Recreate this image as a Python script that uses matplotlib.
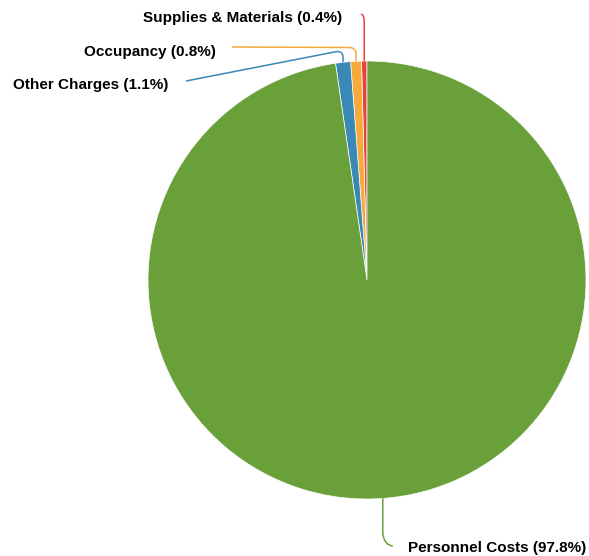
import numpy as np
import matplotlib.pyplot as plt
from matplotlib.path import Path
from matplotlib.patches import PathPatch

# Data
labels = ['Supplies & Materials', 'Occupancy', 'Other Charges', 'Personnel Costs']
shares = [0.4, 0.8, 1.1, 97.8]
colors = ['#e8433a', '#f6aa3a', '#3a88b6', '#6aa03a']

W, H = 589, 556
fig = plt.figure(figsize=(W / 100, H / 100), dpi=100)
ax = fig.add_axes([0, 0, 1, 1])

cx, cy, r = 367, H - 280, 219
wedges, _ = ax.pie(shares, colors=colors, startangle=90, counterclock=True,
                   center=(cx, cy), radius=r,
                   wedgeprops=dict(edgecolor='white', linewidth=0.5))

ax.set_xlim(0, W)
ax.set_ylim(0, H)
ax.set_aspect('equal')
ax.axis('off')


def px(x, y):
    return (x, H - y)


def leader(pts, codes, color):
    path = Path([px(*p) for p in pts], codes)
    ax.add_patch(PathPatch(path, fill=False, edgecolor=color, lw=1.1))


# anchor points on the rim from each wedge's mid angle
anchors = []
for w in wedges:
    a = np.deg2rad((w.theta1 + w.theta2) / 2)
    anchors.append((cx + r * np.cos(a), H - (cy + r * np.sin(a))))

M, L, C3 = Path.MOVETO, Path.LINETO, Path.CURVE3

x0, y0 = anchors[0]
leader([(x0, y0), (x0, 22), (x0, 15), (x0 - 3, 14)], [M, L, C3, C3], colors[0])
x1, y1 = anchors[1]
leader([(x1, y1), (x1, 54), (x1, 47.5), (x1 - 7, 47.5), (232, 47)],
       [M, L, C3, C3, L], colors[1])
x2, y2 = anchors[2]
leader([(x2, y2), (x2, 57), (x2, 51.5), (x2 - 6, 51.5), (186, 81)],
       [M, L, C3, C3, L], colors[2])
x3, y3 = anchors[3]
leader([(x3, y3), (x3, 533), (x3 + 1, 545), (x3 + 10, 546)],
       [M, L, C3, C3], colors[3])

txt = dict(fontsize=11, fontweight='bold', family='Liberation Sans',
           color='black', va='center')
names = [f'{n} ({v}%)' for n, v in zip(labels, shares)]
ax.text(*px(342, 18), names[0], ha='right', **txt)
ax.text(*px(216, 52), names[1], ha='right', **txt)
ax.text(*px(168, 85), names[2], ha='right', **txt)
ax.text(*px(408, 548), names[3], ha='left', **txt)

fig.savefig('out.png', dpi=100)
